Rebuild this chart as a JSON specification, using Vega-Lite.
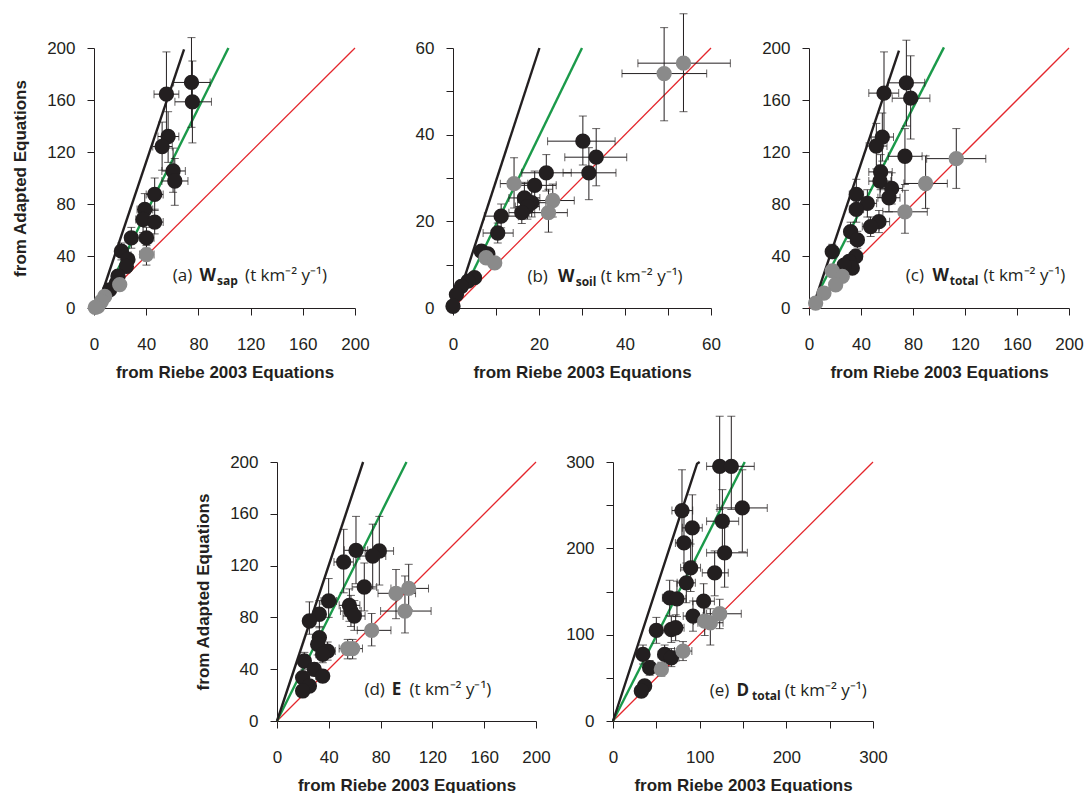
{
"$schema":"https://vega.github.io/schema/vega-lite/v6.json",
"background":"white",
"padding":{"left":11,"top":13,"right":0,"bottom":0},
"config":{"view":{"stroke":null},
"axis":{"grid":false,"domainColor":"#231f20","tickColor":"#231f20","labelColor":"#231f20","titleColor":"#231f20","labelFont":"Liberation Sans","labelFontSize":17,"titleFont":"Liberation Sans","titleFontSize":17,"titleFontWeight":"bold","tickSize":7,"labelOverlap":false,"labelFlush":false},
"axisX":{"labelPadding":21,"titlePadding":12,"labelAngle":0},
"axisY":{"labelPadding":12,"titlePadding":17}},
"datasets":{
"pa":[
{"x":74.7,"y":173.5,"xlo":61,"xhi":89,"ylo":139,"yhi":208,"g":"b"},
{"x":75.4,"y":158.6,"xlo":62,"xhi":90,"ylo":127,"yhi":190,"g":"b"},
{"x":55.5,"y":164.5,"xlo":46,"xhi":65,"ylo":131,"yhi":197,"g":"b"},
{"x":56.8,"y":131.9,"xlo":49,"xhi":65,"ylo":112,"yhi":151,"g":"b"},
{"x":52.2,"y":124.2,"xlo":45,"xhi":60,"ylo":106,"yhi":143,"g":"b"},
{"x":60.6,"y":105.4,"xlo":52,"xhi":70,"ylo":89,"yhi":123,"g":"b"},
{"x":61.9,"y":97.7,"xlo":52,"xhi":72,"ylo":79,"yhi":115,"g":"b"},
{"x":46.5,"y":87.4,"xlo":40,"xhi":53,"ylo":75,"yhi":100,"g":"b"},
{"x":38.9,"y":75.8,"xlo":33,"xhi":45,"ylo":65,"yhi":88,"g":"b"},
{"x":37.6,"y":68.1,"xlo":32,"xhi":43,"ylo":58,"yhi":78,"g":"b"},
{"x":46.5,"y":66.1,"xlo":40,"xhi":53,"ylo":57,"yhi":76,"g":"b"},
{"x":28.6,"y":54,"xlo":24,"xhi":33,"ylo":46,"yhi":62,"g":"b"},
{"x":40.2,"y":54,"xlo":35,"xhi":46,"ylo":46,"yhi":62,"g":"b"},
{"x":21,"y":43.7,"xlo":17,"xhi":25,"ylo":37,"yhi":50,"g":"b"},
{"x":26,"y":37.3,"xlo":22,"xhi":30,"ylo":32,"yhi":43,"g":"b"},
{"x":24.8,"y":32,"xlo":21,"xhi":29,"ylo":27,"yhi":37,"g":"b"},
{"x":18.4,"y":24.4,"xlo":15,"xhi":22,"ylo":20,"yhi":29,"g":"b"},
{"x":17,"y":19,"xlo":14,"xhi":20,"ylo":16,"yhi":22,"g":"b"},
{"x":12,"y":14,"xlo":10,"xhi":14,"ylo":12,"yhi":16,"g":"b"},
{"x":40.2,"y":41.1,"xlo":35,"xhi":46,"ylo":33,"yhi":48,"g":"g"},
{"x":19.7,"y":18,"xlo":17,"xhi":22,"ylo":15,"yhi":21,"g":"g"},
{"x":8.2,"y":9,"xlo":7,"xhi":9.5,"ylo":8,"yhi":10,"g":"g"},
{"x":5.6,"y":5,"xlo":5,"xhi":6.2,"ylo":4.5,"yhi":5.5,"g":"g"},
{"x":3,"y":1.3,"xlo":2.7,"xhi":3.3,"ylo":1,"yhi":1.6,"g":"g"},
{"x":1,"y":0.5,"xlo":0.8,"xhi":1.2,"ylo":0.3,"yhi":0.7,"g":"g"}
],
"pb":[
{"x":30.2,"y":38.5,"xlo":22,"xhi":37.7,"ylo":33,"yhi":44.3,"g":"b"},
{"x":33.3,"y":34.8,"xlo":26,"xhi":40.4,"ylo":28.2,"yhi":41.4,"g":"b"},
{"x":31.6,"y":31.2,"xlo":25.6,"xhi":37.9,"ylo":25,"yhi":37,"g":"b"},
{"x":21.7,"y":31.2,"xlo":16,"xhi":27.5,"ylo":27,"yhi":35.4,"g":"b"},
{"x":19,"y":28.3,"xlo":14,"xhi":24,"ylo":25,"yhi":31.6,"g":"b"},
{"x":16.6,"y":25.4,"xlo":13,"xhi":20.2,"ylo":22,"yhi":29,"g":"b"},
{"x":18.3,"y":24.3,"xlo":15,"xhi":21.6,"ylo":21,"yhi":27.6,"g":"b"},
{"x":17.3,"y":23.4,"xlo":14.5,"xhi":20.1,"ylo":20.5,"yhi":26.3,"g":"b"},
{"x":16,"y":22,"xlo":13,"xhi":19,"ylo":19.5,"yhi":24.5,"g":"b"},
{"x":11.2,"y":21.2,"xlo":7.3,"xhi":15.2,"ylo":18.5,"yhi":24,"g":"b"},
{"x":10.4,"y":17.3,"xlo":7,"xhi":14,"ylo":15,"yhi":19.6,"g":"b"},
{"x":6.6,"y":13.1,"xlo":5.5,"xhi":7.8,"ylo":12,"yhi":14.2,"g":"b"},
{"x":8.1,"y":12.5,"xlo":7,"xhi":9.2,"ylo":11.4,"yhi":13.6,"g":"b"},
{"x":5,"y":7,"xlo":4.5,"xhi":5.5,"ylo":6.5,"yhi":7.5,"g":"b"},
{"x":3.5,"y":6.2,"xlo":3,"xhi":4,"ylo":5.7,"yhi":6.7,"g":"b"},
{"x":1.95,"y":5,"xlo":1.5,"xhi":2.4,"ylo":4.6,"yhi":5.4,"g":"b"},
{"x":0.8,"y":3.1,"xlo":0.5,"xhi":1.1,"ylo":2.8,"yhi":3.4,"g":"b"},
{"x":0,"y":0.4,"xlo":-0.2,"xhi":0.2,"ylo":0.2,"yhi":0.6,"g":"b"},
{"x":14.2,"y":28.7,"xlo":11,"xhi":17.4,"ylo":23.1,"yhi":34.7,"g":"g"},
{"x":23.2,"y":24.8,"xlo":18.2,"xhi":28.2,"ylo":21,"yhi":28.6,"g":"g"},
{"x":22.2,"y":22,"xlo":17.7,"xhi":26.6,"ylo":17.5,"yhi":27.4,"g":"g"},
{"x":7.7,"y":11.6,"xlo":6.5,"xhi":8.9,"ylo":10.5,"yhi":12.7,"g":"g"},
{"x":9.7,"y":10.4,"xlo":8.5,"xhi":10.9,"ylo":9.5,"yhi":11.3,"g":"g"},
{"x":49.1,"y":54.1,"xlo":39.3,"xhi":59,"ylo":43.2,"yhi":64.7,"g":"g"},
{"x":53.6,"y":56.5,"xlo":43,"xhi":64.5,"ylo":45.3,"yhi":67.9,"g":"g"}
],
"pc":[
{"x":74.9,"y":173.2,"xlo":61,"xhi":89,"ylo":140,"yhi":206,"g":"b"},
{"x":78.2,"y":161.4,"xlo":64,"xhi":93,"ylo":130,"yhi":194,"g":"b"},
{"x":57.7,"y":165.3,"xlo":46,"xhi":69,"ylo":133,"yhi":197,"g":"b"},
{"x":56.4,"y":131.5,"xlo":48,"xhi":65,"ylo":113,"yhi":150,"g":"b"},
{"x":51.8,"y":124.6,"xlo":44,"xhi":60,"ylo":107,"yhi":142,"g":"b"},
{"x":73.8,"y":116.7,"xlo":61,"xhi":87,"ylo":95,"yhi":138,"g":"b"},
{"x":55.1,"y":104.7,"xlo":46,"xhi":64,"ylo":91,"yhi":118,"g":"b"},
{"x":54.6,"y":97.6,"xlo":46,"xhi":63,"ylo":85,"yhi":110,"g":"b"},
{"x":63.6,"y":92,"xlo":55,"xhi":72,"ylo":80,"yhi":104,"g":"b"},
{"x":61.5,"y":84.8,"xlo":53,"xhi":70,"ylo":74,"yhi":96,"g":"b"},
{"x":36.4,"y":87.4,"xlo":31,"xhi":42,"ylo":76,"yhi":99,"g":"b"},
{"x":44.9,"y":80.5,"xlo":38,"xhi":52,"ylo":70,"yhi":91,"g":"b"},
{"x":36.4,"y":75.9,"xlo":31,"xhi":42,"ylo":66,"yhi":86,"g":"b"},
{"x":53.8,"y":66.4,"xlo":46,"xhi":62,"ylo":58,"yhi":75,"g":"b"},
{"x":47.4,"y":62.6,"xlo":41,"xhi":54,"ylo":55,"yhi":70,"g":"b"},
{"x":32,"y":58.7,"xlo":28,"xhi":36,"ylo":51,"yhi":66,"g":"b"},
{"x":37.2,"y":52.4,"xlo":32,"xhi":42,"ylo":46,"yhi":59,"g":"b"},
{"x":17.9,"y":43.4,"xlo":15,"xhi":21,"ylo":38,"yhi":49,"g":"b"},
{"x":35.9,"y":39.6,"xlo":31,"xhi":41,"ylo":35,"yhi":45,"g":"b"},
{"x":30.8,"y":35.8,"xlo":27,"xhi":35,"ylo":31,"yhi":40,"g":"b"},
{"x":33.3,"y":30.7,"xlo":29,"xhi":37,"ylo":27,"yhi":35,"g":"b"},
{"x":27,"y":33,"xlo":23,"xhi":31,"ylo":29,"yhi":37,"g":"b"},
{"x":113.3,"y":114.9,"xlo":90.5,"xhi":136,"ylo":92,"yhi":138,"g":"g"},
{"x":89.7,"y":95.8,"xlo":73,"xhi":106.4,"ylo":76.6,"yhi":117,"g":"g"},
{"x":73.8,"y":74,"xlo":56.8,"xhi":91,"ylo":57.5,"yhi":90.5,"g":"g"},
{"x":17.9,"y":28.6,"xlo":15.5,"xhi":20.5,"ylo":25,"yhi":32,"g":"g"},
{"x":25.6,"y":24.3,"xlo":23,"xhi":28,"ylo":21.5,"yhi":27,"g":"g"},
{"x":20.5,"y":17.9,"xlo":18.5,"xhi":22.5,"ylo":16,"yhi":20,"g":"g"},
{"x":11.5,"y":11.5,"xlo":10.5,"xhi":12.5,"ylo":10.5,"yhi":12.5,"g":"g"},
{"x":5.1,"y":3.8,"xlo":4.6,"xhi":5.6,"ylo":3.4,"yhi":4.2,"g":"g"}
],
"pd":[
{"x":61,"y":131.8,"xlo":52,"xhi":70,"ylo":106,"yhi":158,"g":"b"},
{"x":79,"y":131.3,"xlo":68,"xhi":90,"ylo":105,"yhi":158,"g":"b"},
{"x":73.9,"y":127.4,"xlo":64,"xhi":84,"ylo":102,"yhi":152,"g":"b"},
{"x":51.5,"y":122.8,"xlo":44,"xhi":59,"ylo":99,"yhi":148,"g":"b"},
{"x":67.4,"y":103.5,"xlo":58,"xhi":77,"ylo":85,"yhi":122,"g":"b"},
{"x":39.9,"y":92.7,"xlo":34,"xhi":46,"ylo":80,"yhi":110,"g":"b"},
{"x":55.9,"y":89.3,"xlo":48,"xhi":64,"ylo":77,"yhi":102,"g":"b"},
{"x":57.1,"y":84.9,"xlo":49,"xhi":65,"ylo":73,"yhi":97,"g":"b"},
{"x":59.7,"y":81.1,"xlo":51,"xhi":68,"ylo":70,"yhi":93,"g":"b"},
{"x":32.7,"y":82.4,"xlo":28,"xhi":37,"ylo":72,"yhi":93,"g":"b"},
{"x":25,"y":77.2,"xlo":21,"xhi":29,"ylo":67,"yhi":92,"g":"b"},
{"x":32.7,"y":64.4,"xlo":28,"xhi":37,"ylo":56,"yhi":73,"g":"b"},
{"x":31.4,"y":59.2,"xlo":27,"xhi":36,"ylo":51,"yhi":67,"g":"b"},
{"x":39.1,"y":54,"xlo":33,"xhi":45,"ylo":47,"yhi":61,"g":"b"},
{"x":35.3,"y":51.5,"xlo":30,"xhi":40,"ylo":45,"yhi":58,"g":"b"},
{"x":21.1,"y":46.3,"xlo":18,"xhi":24,"ylo":40,"yhi":53,"g":"b"},
{"x":28.8,"y":39.9,"xlo":25,"xhi":33,"ylo":35,"yhi":45,"g":"b"},
{"x":35.3,"y":34.7,"xlo":30,"xhi":40,"ylo":30,"yhi":39,"g":"b"},
{"x":19.8,"y":33.5,"xlo":17,"xhi":23,"ylo":29,"yhi":38,"g":"b"},
{"x":25,"y":27,"xlo":21.5,"xhi":28.5,"ylo":23.5,"yhi":30.5,"g":"b"},
{"x":19.8,"y":23.2,"xlo":17,"xhi":23,"ylo":20,"yhi":26.5,"g":"b"},
{"x":101.7,"y":102.4,"xlo":88,"xhi":117,"ylo":86,"yhi":121,"g":"g"},
{"x":91.9,"y":98.6,"xlo":78,"xhi":107,"ylo":79,"yhi":117,"g":"g"},
{"x":98.8,"y":84.9,"xlo":80,"xhi":119,"ylo":68,"yhi":112,"g":"g"},
{"x":73.1,"y":70,"xlo":62,"xhi":88,"ylo":58,"yhi":83,"g":"g"},
{"x":54.6,"y":55.9,"xlo":48,"xhi":62,"ylo":48,"yhi":63,"g":"g"},
{"x":58.4,"y":55.9,"xlo":52,"xhi":66,"ylo":48,"yhi":63,"g":"g"}
],
"pe":[
{"x":123.1,"y":295,"xlo":108,"xhi":138,"ylo":245,"yhi":353,"g":"b"},
{"x":136.5,"y":295,"xlo":120,"xhi":163,"ylo":245,"yhi":353,"g":"b"},
{"x":149.2,"y":246.8,"xlo":120,"xhi":178,"ylo":196,"yhi":291,"g":"b"},
{"x":79.6,"y":243.7,"xlo":68,"xhi":92,"ylo":205,"yhi":291,"g":"b"},
{"x":91.5,"y":223.7,"xlo":80,"xhi":103,"ylo":185,"yhi":262,"g":"b"},
{"x":126.2,"y":231.4,"xlo":108,"xhi":145,"ylo":195,"yhi":268,"g":"b"},
{"x":81.9,"y":206.3,"xlo":72,"xhi":92,"ylo":175,"yhi":238,"g":"b"},
{"x":128.8,"y":194.8,"xlo":108,"xhi":155,"ylo":155,"yhi":225,"g":"b"},
{"x":89.6,"y":177.4,"xlo":78,"xhi":101,"ylo":150,"yhi":205,"g":"b"},
{"x":117.3,"y":171.6,"xlo":103,"xhi":133,"ylo":145,"yhi":197,"g":"b"},
{"x":84.6,"y":160,"xlo":74,"xhi":95,"ylo":137,"yhi":183,"g":"b"},
{"x":65.4,"y":142.7,"xlo":57,"xhi":74,"ylo":122,"yhi":163,"g":"b"},
{"x":73.8,"y":141.5,"xlo":64,"xhi":84,"ylo":121,"yhi":162,"g":"b"},
{"x":104.6,"y":138.8,"xlo":92,"xhi":117,"ylo":119,"yhi":159,"g":"b"},
{"x":92.3,"y":121.5,"xlo":81,"xhi":104,"ylo":104,"yhi":139,"g":"b"},
{"x":50,"y":104.9,"xlo":44,"xhi":56,"ylo":90,"yhi":120,"g":"b"},
{"x":67.3,"y":106,"xlo":59,"xhi":76,"ylo":91,"yhi":121,"g":"b"},
{"x":72.3,"y":108,"xlo":63,"xhi":82,"ylo":93,"yhi":123,"g":"b"},
{"x":34.6,"y":77.1,"xlo":30,"xhi":39,"ylo":66,"yhi":88,"g":"b"},
{"x":59.6,"y":77.1,"xlo":52,"xhi":67,"ylo":66,"yhi":88,"g":"b"},
{"x":42.3,"y":61.7,"xlo":37,"xhi":48,"ylo":53,"yhi":70,"g":"b"},
{"x":67.3,"y":73.3,"xlo":59,"xhi":76,"ylo":63,"yhi":84,"g":"b"},
{"x":36.5,"y":40.5,"xlo":32,"xhi":41,"ylo":35,"yhi":46,"g":"b"},
{"x":32.7,"y":34.7,"xlo":29,"xhi":37,"ylo":30,"yhi":40,"g":"b"},
{"x":123.1,"y":124.2,"xlo":108,"xhi":148,"ylo":107,"yhi":141,"g":"g"},
{"x":112.3,"y":113.8,"xlo":98,"xhi":127,"ylo":88,"yhi":130,"g":"g"},
{"x":105.8,"y":115.7,"xlo":93,"xhi":119,"ylo":99,"yhi":132,"g":"g"},
{"x":80.8,"y":81,"xlo":71,"xhi":91,"ylo":70,"yhi":92,"g":"g"},
{"x":55.8,"y":59.8,"xlo":49,"xhi":63,"ylo":52,"yhi":68,"g":"g"}
]
},
"vconcat":[
{"hconcat":[
{"width":261,"height":260,"data":{"name":"pa"},"layer":[
{"data":{"values":[{"x":0,"y":0},{"x":200,"y":200}]},"mark":{"type":"line","color":"#e4262c","strokeWidth":1.3},"encoding":{"x":{"field":"x","type":"quantitative","scale":{"domain":[0,200],"nice":false,"zero":false},"title":"from Riebe 2003 Equations"},"y":{"field":"y","type":"quantitative","scale":{"domain":[0,200],"nice":false,"zero":false},"title":"from Adapted Equations"}}},
{"data":{"values":[{"x":4,"y":1},{"x":103,"y":200}]},"mark":{"type":"line","color":"#1b9a4a","strokeWidth":2.4},"encoding":{"x":{"field":"x","type":"quantitative","scale":{"domain":[0,200],"nice":false,"zero":false},"title":"from Riebe 2003 Equations"},"y":{"field":"y","type":"quantitative","scale":{"domain":[0,200],"nice":false,"zero":false},"title":"from Adapted Equations"}}},
{"data":{"values":[{"x":4,"y":5},{"x":69,"y":199}]},"mark":{"type":"line","color":"#231f20","strokeWidth":2.4},"encoding":{"x":{"field":"x","type":"quantitative","scale":{"domain":[0,200],"nice":false,"zero":false},"title":"from Riebe 2003 Equations"},"y":{"field":"y","type":"quantitative","scale":{"domain":[0,200],"nice":false,"zero":false},"title":"from Adapted Equations"}}},
{"mark":{"type":"rule","color":"#231f20","strokeWidth":1},"encoding":{"x":{"field":"xlo","type":"quantitative","scale":{"domain":[0,200],"nice":false,"zero":false},"title":"from Riebe 2003 Equations"},"x2":{"field":"xhi"},"y":{"field":"y","type":"quantitative","scale":{"domain":[0,200],"nice":false,"zero":false},"title":"from Adapted Equations"}}},
{"mark":{"type":"rule","color":"#231f20","strokeWidth":1},"encoding":{"x":{"field":"x","type":"quantitative","scale":{"domain":[0,200],"nice":false,"zero":false},"title":"from Riebe 2003 Equations"},"y":{"field":"ylo","type":"quantitative","scale":{"domain":[0,200],"nice":false,"zero":false},"title":"from Adapted Equations"},"y2":{"field":"yhi"}}},
{"mark":{"type":"tick","orient":"vertical","size":8,"thickness":1,"color":"#231f20"},"encoding":{"x":{"field":"xlo","type":"quantitative","scale":{"domain":[0,200],"nice":false,"zero":false},"title":"from Riebe 2003 Equations"},"y":{"field":"y","type":"quantitative","scale":{"domain":[0,200],"nice":false,"zero":false},"title":"from Adapted Equations"}}},
{"mark":{"type":"tick","orient":"vertical","size":8,"thickness":1,"color":"#231f20"},"encoding":{"x":{"field":"xhi","type":"quantitative","scale":{"domain":[0,200],"nice":false,"zero":false},"title":"from Riebe 2003 Equations"},"y":{"field":"y","type":"quantitative","scale":{"domain":[0,200],"nice":false,"zero":false},"title":"from Adapted Equations"}}},
{"mark":{"type":"tick","orient":"horizontal","size":8,"thickness":1,"color":"#231f20"},"encoding":{"x":{"field":"x","type":"quantitative","scale":{"domain":[0,200],"nice":false,"zero":false},"title":"from Riebe 2003 Equations"},"y":{"field":"ylo","type":"quantitative","scale":{"domain":[0,200],"nice":false,"zero":false},"title":"from Adapted Equations"}}},
{"mark":{"type":"tick","orient":"horizontal","size":8,"thickness":1,"color":"#231f20"},"encoding":{"x":{"field":"x","type":"quantitative","scale":{"domain":[0,200],"nice":false,"zero":false},"title":"from Riebe 2003 Equations"},"y":{"field":"yhi","type":"quantitative","scale":{"domain":[0,200],"nice":false,"zero":false},"title":"from Adapted Equations"}}},
{"mark":{"type":"circle","size":235,"opacity":1},"encoding":{"x":{"field":"x","type":"quantitative","scale":{"domain":[0,200],"nice":false,"zero":false},"title":"from Riebe 2003 Equations","axis":{"values":[0,20,40,60,80,100,120,140,160,180,200],"labelExpr":"datum.value % 40 === 0 ? datum.label : ''"}},"y":{"field":"y","type":"quantitative","scale":{"domain":[0,200],"nice":false,"zero":false},"title":"from Adapted Equations","axis":{"values":[0,20,40,60,80,100,120,140,160,180,200],"labelExpr":"datum.value % 40 === 0 ? datum.label : ''"}},"color":{"field":"g","type":"nominal","scale":{"domain":["b","g"],"range":["#231f20","#8a8a8a"]},"legend":null}}},
{"data":{"values":[{}]},"mark":{"type":"text","text":"(a)","align":"left","baseline":"alphabetic","font":"Open Sans","fontSize":17,"color":"#231f20"},"encoding":{"x":{"datum":60.4,"type":"quantitative","scale":{"domain":[0,200],"nice":false,"zero":false}},"y":{"datum":21.1,"type":"quantitative","scale":{"domain":[0,200],"nice":false,"zero":false}}}},
{"data":{"values":[{}]},"mark":{"type":"text","text":"W","dx":26.7,"align":"left","baseline":"alphabetic","font":"Open Sans","fontSize":17,"fontWeight":"bold","color":"#231f20"},"encoding":{"x":{"datum":60.4,"type":"quantitative","scale":{"domain":[0,200],"nice":false,"zero":false}},"y":{"datum":21.1,"type":"quantitative","scale":{"domain":[0,200],"nice":false,"zero":false}}}},
{"data":{"values":[{}]},"mark":{"type":"text","text":"sap","dx":44.3,"dy":4,"align":"left","baseline":"alphabetic","font":"Open Sans","fontSize":12,"fontWeight":"bold","color":"#231f20"},"encoding":{"x":{"datum":60.4,"type":"quantitative","scale":{"domain":[0,200],"nice":false,"zero":false}},"y":{"datum":21.1,"type":"quantitative","scale":{"domain":[0,200],"nice":false,"zero":false}}}},
{"data":{"values":[{}]},"mark":{"type":"text","text":"(t km⁻² y⁻¹)","dx":72.3,"align":"left","baseline":"alphabetic","font":"Open Sans","fontSize":17,"color":"#231f20"},"encoding":{"x":{"datum":60.4,"type":"quantitative","scale":{"domain":[0,200],"nice":false,"zero":false}},"y":{"datum":21.1,"type":"quantitative","scale":{"domain":[0,200],"nice":false,"zero":false}}}}
]},
{"width":258,"height":260,"data":{"name":"pb"},"layer":[
{"data":{"values":[{"x":0,"y":0},{"x":60,"y":60}]},"mark":{"type":"line","color":"#e4262c","strokeWidth":1.3},"encoding":{"x":{"field":"x","type":"quantitative","scale":{"domain":[0,60],"nice":false,"zero":false},"title":"from Riebe 2003 Equations"},"y":{"field":"y","type":"quantitative","scale":{"domain":[0,60],"nice":false,"zero":false},"title":null}}},
{"data":{"values":[{"x":3,"y":5},{"x":30,"y":60}]},"mark":{"type":"line","color":"#1b9a4a","strokeWidth":2.4},"encoding":{"x":{"field":"x","type":"quantitative","scale":{"domain":[0,60],"nice":false,"zero":false},"title":"from Riebe 2003 Equations"},"y":{"field":"y","type":"quantitative","scale":{"domain":[0,60],"nice":false,"zero":false},"title":null}}},
{"data":{"values":[{"x":2,"y":5},{"x":20.1,"y":60}]},"mark":{"type":"line","color":"#231f20","strokeWidth":2.4},"encoding":{"x":{"field":"x","type":"quantitative","scale":{"domain":[0,60],"nice":false,"zero":false},"title":"from Riebe 2003 Equations"},"y":{"field":"y","type":"quantitative","scale":{"domain":[0,60],"nice":false,"zero":false},"title":null}}},
{"mark":{"type":"rule","color":"#231f20","strokeWidth":1},"encoding":{"x":{"field":"xlo","type":"quantitative","scale":{"domain":[0,60],"nice":false,"zero":false},"title":"from Riebe 2003 Equations"},"x2":{"field":"xhi"},"y":{"field":"y","type":"quantitative","scale":{"domain":[0,60],"nice":false,"zero":false},"title":null}}},
{"mark":{"type":"rule","color":"#231f20","strokeWidth":1},"encoding":{"x":{"field":"x","type":"quantitative","scale":{"domain":[0,60],"nice":false,"zero":false},"title":"from Riebe 2003 Equations"},"y":{"field":"ylo","type":"quantitative","scale":{"domain":[0,60],"nice":false,"zero":false},"title":null},"y2":{"field":"yhi"}}},
{"mark":{"type":"tick","orient":"vertical","size":8,"thickness":1,"color":"#231f20"},"encoding":{"x":{"field":"xlo","type":"quantitative","scale":{"domain":[0,60],"nice":false,"zero":false},"title":"from Riebe 2003 Equations"},"y":{"field":"y","type":"quantitative","scale":{"domain":[0,60],"nice":false,"zero":false},"title":null}}},
{"mark":{"type":"tick","orient":"vertical","size":8,"thickness":1,"color":"#231f20"},"encoding":{"x":{"field":"xhi","type":"quantitative","scale":{"domain":[0,60],"nice":false,"zero":false},"title":"from Riebe 2003 Equations"},"y":{"field":"y","type":"quantitative","scale":{"domain":[0,60],"nice":false,"zero":false},"title":null}}},
{"mark":{"type":"tick","orient":"horizontal","size":8,"thickness":1,"color":"#231f20"},"encoding":{"x":{"field":"x","type":"quantitative","scale":{"domain":[0,60],"nice":false,"zero":false},"title":"from Riebe 2003 Equations"},"y":{"field":"ylo","type":"quantitative","scale":{"domain":[0,60],"nice":false,"zero":false},"title":null}}},
{"mark":{"type":"tick","orient":"horizontal","size":8,"thickness":1,"color":"#231f20"},"encoding":{"x":{"field":"x","type":"quantitative","scale":{"domain":[0,60],"nice":false,"zero":false},"title":"from Riebe 2003 Equations"},"y":{"field":"yhi","type":"quantitative","scale":{"domain":[0,60],"nice":false,"zero":false},"title":null}}},
{"mark":{"type":"circle","size":235,"opacity":1},"encoding":{"x":{"field":"x","type":"quantitative","scale":{"domain":[0,60],"nice":false,"zero":false},"title":"from Riebe 2003 Equations","axis":{"values":[0,10,20,30,40,50,60],"labelExpr":"datum.value % 20 === 0 ? datum.label : ''"}},"y":{"field":"y","type":"quantitative","scale":{"domain":[0,60],"nice":false,"zero":false},"title":null,"axis":{"values":[0,10,20,30,40,50,60],"labelExpr":"datum.value % 20 === 0 ? datum.label : ''"}},"color":{"field":"g","type":"nominal","scale":{"domain":["b","g"],"range":["#231f20","#8a8a8a"]},"legend":null}}},
{"data":{"values":[{}]},"mark":{"type":"text","text":"(b)","align":"left","baseline":"alphabetic","font":"Open Sans","fontSize":17,"color":"#231f20"},"encoding":{"x":{"datum":17.3,"type":"quantitative","scale":{"domain":[0,60],"nice":false,"zero":false}},"y":{"datum":5.95,"type":"quantitative","scale":{"domain":[0,60],"nice":false,"zero":false}}}},
{"data":{"values":[{}]},"mark":{"type":"text","text":"W","dx":30.7,"align":"left","baseline":"alphabetic","font":"Open Sans","fontSize":17,"fontWeight":"bold","color":"#231f20"},"encoding":{"x":{"datum":17.3,"type":"quantitative","scale":{"domain":[0,60],"nice":false,"zero":false}},"y":{"datum":5.95,"type":"quantitative","scale":{"domain":[0,60],"nice":false,"zero":false}}}},
{"data":{"values":[{}]},"mark":{"type":"text","text":"soil","dx":48.3,"dy":4,"align":"left","baseline":"alphabetic","font":"Open Sans","fontSize":12,"fontWeight":"bold","color":"#231f20"},"encoding":{"x":{"datum":17.3,"type":"quantitative","scale":{"domain":[0,60],"nice":false,"zero":false}},"y":{"datum":5.95,"type":"quantitative","scale":{"domain":[0,60],"nice":false,"zero":false}}}},
{"data":{"values":[{}]},"mark":{"type":"text","text":"(t km⁻² y⁻¹)","dx":73.3,"align":"left","baseline":"alphabetic","font":"Open Sans","fontSize":17,"color":"#231f20"},"encoding":{"x":{"datum":17.3,"type":"quantitative","scale":{"domain":[0,60],"nice":false,"zero":false}},"y":{"datum":5.95,"type":"quantitative","scale":{"domain":[0,60],"nice":false,"zero":false}}}}
]},
{"width":260,"height":260,"data":{"name":"pc"},"layer":[
{"data":{"values":[{"x":0,"y":0},{"x":200,"y":200}]},"mark":{"type":"line","color":"#e4262c","strokeWidth":1.3},"encoding":{"x":{"field":"x","type":"quantitative","scale":{"domain":[0,200],"nice":false,"zero":false},"title":"from Riebe 2003 Equations"},"y":{"field":"y","type":"quantitative","scale":{"domain":[0,200],"nice":false,"zero":false},"title":null}}},
{"data":{"values":[{"x":7,"y":11.5},{"x":103.8,"y":200.5}]},"mark":{"type":"line","color":"#1b9a4a","strokeWidth":2.4},"encoding":{"x":{"field":"x","type":"quantitative","scale":{"domain":[0,200],"nice":false,"zero":false},"title":"from Riebe 2003 Equations"},"y":{"field":"y","type":"quantitative","scale":{"domain":[0,200],"nice":false,"zero":false},"title":null}}},
{"data":{"values":[{"x":5,"y":7},{"x":69.2,"y":198}]},"mark":{"type":"line","color":"#231f20","strokeWidth":2.4},"encoding":{"x":{"field":"x","type":"quantitative","scale":{"domain":[0,200],"nice":false,"zero":false},"title":"from Riebe 2003 Equations"},"y":{"field":"y","type":"quantitative","scale":{"domain":[0,200],"nice":false,"zero":false},"title":null}}},
{"mark":{"type":"rule","color":"#231f20","strokeWidth":1},"encoding":{"x":{"field":"xlo","type":"quantitative","scale":{"domain":[0,200],"nice":false,"zero":false},"title":"from Riebe 2003 Equations"},"x2":{"field":"xhi"},"y":{"field":"y","type":"quantitative","scale":{"domain":[0,200],"nice":false,"zero":false},"title":null}}},
{"mark":{"type":"rule","color":"#231f20","strokeWidth":1},"encoding":{"x":{"field":"x","type":"quantitative","scale":{"domain":[0,200],"nice":false,"zero":false},"title":"from Riebe 2003 Equations"},"y":{"field":"ylo","type":"quantitative","scale":{"domain":[0,200],"nice":false,"zero":false},"title":null},"y2":{"field":"yhi"}}},
{"mark":{"type":"tick","orient":"vertical","size":8,"thickness":1,"color":"#231f20"},"encoding":{"x":{"field":"xlo","type":"quantitative","scale":{"domain":[0,200],"nice":false,"zero":false},"title":"from Riebe 2003 Equations"},"y":{"field":"y","type":"quantitative","scale":{"domain":[0,200],"nice":false,"zero":false},"title":null}}},
{"mark":{"type":"tick","orient":"vertical","size":8,"thickness":1,"color":"#231f20"},"encoding":{"x":{"field":"xhi","type":"quantitative","scale":{"domain":[0,200],"nice":false,"zero":false},"title":"from Riebe 2003 Equations"},"y":{"field":"y","type":"quantitative","scale":{"domain":[0,200],"nice":false,"zero":false},"title":null}}},
{"mark":{"type":"tick","orient":"horizontal","size":8,"thickness":1,"color":"#231f20"},"encoding":{"x":{"field":"x","type":"quantitative","scale":{"domain":[0,200],"nice":false,"zero":false},"title":"from Riebe 2003 Equations"},"y":{"field":"ylo","type":"quantitative","scale":{"domain":[0,200],"nice":false,"zero":false},"title":null}}},
{"mark":{"type":"tick","orient":"horizontal","size":8,"thickness":1,"color":"#231f20"},"encoding":{"x":{"field":"x","type":"quantitative","scale":{"domain":[0,200],"nice":false,"zero":false},"title":"from Riebe 2003 Equations"},"y":{"field":"yhi","type":"quantitative","scale":{"domain":[0,200],"nice":false,"zero":false},"title":null}}},
{"mark":{"type":"circle","size":235,"opacity":1},"encoding":{"x":{"field":"x","type":"quantitative","scale":{"domain":[0,200],"nice":false,"zero":false},"title":"from Riebe 2003 Equations","axis":{"values":[0,20,40,60,80,100,120,140,160,180,200],"labelExpr":"datum.value % 40 === 0 ? datum.label : ''"}},"y":{"field":"y","type":"quantitative","scale":{"domain":[0,200],"nice":false,"zero":false},"title":null,"axis":{"values":[0,20,40,60,80,100,120,140,160,180,200],"labelExpr":"datum.value % 40 === 0 ? datum.label : ''"}},"color":{"field":"g","type":"nominal","scale":{"domain":["b","g"],"range":["#231f20","#8a8a8a"]},"legend":null}}},
{"data":{"values":[{}]},"mark":{"type":"text","text":"(c)","align":"left","baseline":"alphabetic","font":"Open Sans","fontSize":17,"color":"#231f20"},"encoding":{"x":{"datum":74.4,"type":"quantitative","scale":{"domain":[0,200],"nice":false,"zero":false}},"y":{"datum":20.9,"type":"quantitative","scale":{"domain":[0,200],"nice":false,"zero":false}}}},
{"data":{"values":[{}]},"mark":{"type":"text","text":"W","dx":26.7,"align":"left","baseline":"alphabetic","font":"Open Sans","fontSize":17,"fontWeight":"bold","color":"#231f20"},"encoding":{"x":{"datum":74.4,"type":"quantitative","scale":{"domain":[0,200],"nice":false,"zero":false}},"y":{"datum":20.9,"type":"quantitative","scale":{"domain":[0,200],"nice":false,"zero":false}}}},
{"data":{"values":[{}]},"mark":{"type":"text","text":"total","dx":44,"dy":4,"align":"left","baseline":"alphabetic","font":"Open Sans","fontSize":12,"fontWeight":"bold","color":"#231f20"},"encoding":{"x":{"datum":74.4,"type":"quantitative","scale":{"domain":[0,200],"nice":false,"zero":false}},"y":{"datum":20.9,"type":"quantitative","scale":{"domain":[0,200],"nice":false,"zero":false}}}},
{"data":{"values":[{}]},"mark":{"type":"text","text":"(t km⁻² y⁻¹)","dx":77.7,"align":"left","baseline":"alphabetic","font":"Open Sans","fontSize":17,"color":"#231f20"},"encoding":{"x":{"datum":74.4,"type":"quantitative","scale":{"domain":[0,200],"nice":false,"zero":false}},"y":{"datum":20.9,"type":"quantitative","scale":{"domain":[0,200],"nice":false,"zero":false}}}}
]}
],"spacing":98,"bounds":"flush"},
{"hconcat":[
{"width":106,"height":259,"data":{"values":[]},"mark":"point"},
{"width":259,"height":259,"data":{"name":"pd"},"layer":[
{"data":{"values":[{"x":0,"y":0},{"x":200,"y":200}]},"mark":{"type":"line","color":"#e4262c","strokeWidth":1.3},"encoding":{"x":{"field":"x","type":"quantitative","scale":{"domain":[0,200],"nice":false,"zero":false},"title":"from Riebe 2003 Equations"},"y":{"field":"y","type":"quantitative","scale":{"domain":[0,200],"nice":false,"zero":false},"title":"from Adapted Equations"}}},
{"data":{"values":[{"x":0,"y":0},{"x":100,"y":200}]},"mark":{"type":"line","color":"#1b9a4a","strokeWidth":2.4},"encoding":{"x":{"field":"x","type":"quantitative","scale":{"domain":[0,200],"nice":false,"zero":false},"title":"from Riebe 2003 Equations"},"y":{"field":"y","type":"quantitative","scale":{"domain":[0,200],"nice":false,"zero":false},"title":"from Adapted Equations"}}},
{"data":{"values":[{"x":0,"y":0},{"x":66.5,"y":200}]},"mark":{"type":"line","color":"#231f20","strokeWidth":2.4},"encoding":{"x":{"field":"x","type":"quantitative","scale":{"domain":[0,200],"nice":false,"zero":false},"title":"from Riebe 2003 Equations"},"y":{"field":"y","type":"quantitative","scale":{"domain":[0,200],"nice":false,"zero":false},"title":"from Adapted Equations"}}},
{"mark":{"type":"rule","color":"#231f20","strokeWidth":1},"encoding":{"x":{"field":"xlo","type":"quantitative","scale":{"domain":[0,200],"nice":false,"zero":false},"title":"from Riebe 2003 Equations"},"x2":{"field":"xhi"},"y":{"field":"y","type":"quantitative","scale":{"domain":[0,200],"nice":false,"zero":false},"title":"from Adapted Equations"}}},
{"mark":{"type":"rule","color":"#231f20","strokeWidth":1},"encoding":{"x":{"field":"x","type":"quantitative","scale":{"domain":[0,200],"nice":false,"zero":false},"title":"from Riebe 2003 Equations"},"y":{"field":"ylo","type":"quantitative","scale":{"domain":[0,200],"nice":false,"zero":false},"title":"from Adapted Equations"},"y2":{"field":"yhi"}}},
{"mark":{"type":"tick","orient":"vertical","size":8,"thickness":1,"color":"#231f20"},"encoding":{"x":{"field":"xlo","type":"quantitative","scale":{"domain":[0,200],"nice":false,"zero":false},"title":"from Riebe 2003 Equations"},"y":{"field":"y","type":"quantitative","scale":{"domain":[0,200],"nice":false,"zero":false},"title":"from Adapted Equations"}}},
{"mark":{"type":"tick","orient":"vertical","size":8,"thickness":1,"color":"#231f20"},"encoding":{"x":{"field":"xhi","type":"quantitative","scale":{"domain":[0,200],"nice":false,"zero":false},"title":"from Riebe 2003 Equations"},"y":{"field":"y","type":"quantitative","scale":{"domain":[0,200],"nice":false,"zero":false},"title":"from Adapted Equations"}}},
{"mark":{"type":"tick","orient":"horizontal","size":8,"thickness":1,"color":"#231f20"},"encoding":{"x":{"field":"x","type":"quantitative","scale":{"domain":[0,200],"nice":false,"zero":false},"title":"from Riebe 2003 Equations"},"y":{"field":"ylo","type":"quantitative","scale":{"domain":[0,200],"nice":false,"zero":false},"title":"from Adapted Equations"}}},
{"mark":{"type":"tick","orient":"horizontal","size":8,"thickness":1,"color":"#231f20"},"encoding":{"x":{"field":"x","type":"quantitative","scale":{"domain":[0,200],"nice":false,"zero":false},"title":"from Riebe 2003 Equations"},"y":{"field":"yhi","type":"quantitative","scale":{"domain":[0,200],"nice":false,"zero":false},"title":"from Adapted Equations"}}},
{"mark":{"type":"circle","size":235,"opacity":1},"encoding":{"x":{"field":"x","type":"quantitative","scale":{"domain":[0,200],"nice":false,"zero":false},"title":"from Riebe 2003 Equations","axis":{"values":[0,20,40,60,80,100,120,140,160,180,200],"labelExpr":"datum.value % 40 === 0 ? datum.label : ''"}},"y":{"field":"y","type":"quantitative","scale":{"domain":[0,200],"nice":false,"zero":false},"title":"from Adapted Equations","axis":{"values":[0,20,40,60,80,100,120,140,160,180,200],"labelExpr":"datum.value % 40 === 0 ? datum.label : ''"}},"color":{"field":"g","type":"nominal","scale":{"domain":["b","g"],"range":["#231f20","#8a8a8a"]},"legend":null}}},
{"data":{"values":[{}]},"mark":{"type":"text","text":"(d)","align":"left","baseline":"alphabetic","font":"Open Sans","fontSize":17,"color":"#231f20"},"encoding":{"x":{"datum":67.5,"type":"quantitative","scale":{"domain":[0,200],"nice":false,"zero":false}},"y":{"datum":19.8,"type":"quantitative","scale":{"domain":[0,200],"nice":false,"zero":false}}}},
{"data":{"values":[{}]},"mark":{"type":"text","text":"E","dx":27.3,"align":"left","baseline":"alphabetic","font":"Open Sans","fontSize":17,"fontWeight":"bold","color":"#231f20"},"encoding":{"x":{"datum":67.5,"type":"quantitative","scale":{"domain":[0,200],"nice":false,"zero":false}},"y":{"datum":19.8,"type":"quantitative","scale":{"domain":[0,200],"nice":false,"zero":false}}}},
{"data":{"values":[{}]},"mark":{"type":"text","text":"(t km⁻² y⁻¹)","dx":45,"align":"left","baseline":"alphabetic","font":"Open Sans","fontSize":17,"color":"#231f20"},"encoding":{"x":{"datum":67.5,"type":"quantitative","scale":{"domain":[0,200],"nice":false,"zero":false}},"y":{"datum":19.8,"type":"quantitative","scale":{"domain":[0,200],"nice":false,"zero":false}}}}
]},
{"width":260,"height":259,"data":{"name":"pe"},"layer":[
{"data":{"values":[{"x":0,"y":0},{"x":300,"y":300}]},"mark":{"type":"line","color":"#e4262c","strokeWidth":1.3},"encoding":{"x":{"field":"x","type":"quantitative","scale":{"domain":[0,300],"nice":false,"zero":false},"title":"from Riebe 2003 Equations"},"y":{"field":"y","type":"quantitative","scale":{"domain":[0,300],"nice":false,"zero":false},"title":null}}},
{"data":{"values":[{"x":0,"y":0},{"x":152,"y":300}]},"mark":{"type":"line","color":"#1b9a4a","strokeWidth":2.4},"encoding":{"x":{"field":"x","type":"quantitative","scale":{"domain":[0,300],"nice":false,"zero":false},"title":"from Riebe 2003 Equations"},"y":{"field":"y","type":"quantitative","scale":{"domain":[0,300],"nice":false,"zero":false},"title":null}}},
{"data":{"values":[{"x":0,"y":0},{"x":97,"y":298},{"x":100,"y":300}]},"mark":{"type":"line","color":"#231f20","strokeWidth":2.4},"encoding":{"x":{"field":"x","type":"quantitative","scale":{"domain":[0,300],"nice":false,"zero":false},"title":"from Riebe 2003 Equations"},"y":{"field":"y","type":"quantitative","scale":{"domain":[0,300],"nice":false,"zero":false},"title":null}}},
{"mark":{"type":"rule","color":"#231f20","strokeWidth":1},"encoding":{"x":{"field":"xlo","type":"quantitative","scale":{"domain":[0,300],"nice":false,"zero":false},"title":"from Riebe 2003 Equations"},"x2":{"field":"xhi"},"y":{"field":"y","type":"quantitative","scale":{"domain":[0,300],"nice":false,"zero":false},"title":null}}},
{"mark":{"type":"rule","color":"#231f20","strokeWidth":1},"encoding":{"x":{"field":"x","type":"quantitative","scale":{"domain":[0,300],"nice":false,"zero":false},"title":"from Riebe 2003 Equations"},"y":{"field":"ylo","type":"quantitative","scale":{"domain":[0,300],"nice":false,"zero":false},"title":null},"y2":{"field":"yhi"}}},
{"mark":{"type":"tick","orient":"vertical","size":8,"thickness":1,"color":"#231f20"},"encoding":{"x":{"field":"xlo","type":"quantitative","scale":{"domain":[0,300],"nice":false,"zero":false},"title":"from Riebe 2003 Equations"},"y":{"field":"y","type":"quantitative","scale":{"domain":[0,300],"nice":false,"zero":false},"title":null}}},
{"mark":{"type":"tick","orient":"vertical","size":8,"thickness":1,"color":"#231f20"},"encoding":{"x":{"field":"xhi","type":"quantitative","scale":{"domain":[0,300],"nice":false,"zero":false},"title":"from Riebe 2003 Equations"},"y":{"field":"y","type":"quantitative","scale":{"domain":[0,300],"nice":false,"zero":false},"title":null}}},
{"mark":{"type":"tick","orient":"horizontal","size":8,"thickness":1,"color":"#231f20"},"encoding":{"x":{"field":"x","type":"quantitative","scale":{"domain":[0,300],"nice":false,"zero":false},"title":"from Riebe 2003 Equations"},"y":{"field":"ylo","type":"quantitative","scale":{"domain":[0,300],"nice":false,"zero":false},"title":null}}},
{"mark":{"type":"tick","orient":"horizontal","size":8,"thickness":1,"color":"#231f20"},"encoding":{"x":{"field":"x","type":"quantitative","scale":{"domain":[0,300],"nice":false,"zero":false},"title":"from Riebe 2003 Equations"},"y":{"field":"yhi","type":"quantitative","scale":{"domain":[0,300],"nice":false,"zero":false},"title":null}}},
{"mark":{"type":"circle","size":235,"opacity":1},"encoding":{"x":{"field":"x","type":"quantitative","scale":{"domain":[0,300],"nice":false,"zero":false},"title":"from Riebe 2003 Equations","axis":{"values":[0,50,100,150,200,250,300],"labelExpr":"datum.value % 100 === 0 ? datum.label : ''"}},"y":{"field":"y","type":"quantitative","scale":{"domain":[0,300],"nice":false,"zero":false},"title":null,"axis":{"values":[0,50,100,150,200,250,300],"labelExpr":"datum.value % 100 === 0 ? datum.label : ''"}},"color":{"field":"g","type":"nominal","scale":{"domain":["b","g"],"range":["#231f20","#8a8a8a"]},"legend":null}}},
{"data":{"values":[{}]},"mark":{"type":"text","text":"(e)","align":"left","baseline":"alphabetic","font":"Open Sans","fontSize":17,"color":"#231f20"},"encoding":{"x":{"datum":111.6,"type":"quantitative","scale":{"domain":[0,300],"nice":false,"zero":false}},"y":{"datum":28.6,"type":"quantitative","scale":{"domain":[0,300],"nice":false,"zero":false}}}},
{"data":{"values":[{}]},"mark":{"type":"text","text":"D","dx":26.7,"align":"left","baseline":"alphabetic","font":"Open Sans","fontSize":17,"fontWeight":"bold","color":"#231f20"},"encoding":{"x":{"datum":111.6,"type":"quantitative","scale":{"domain":[0,300],"nice":false,"zero":false}},"y":{"datum":28.6,"type":"quantitative","scale":{"domain":[0,300],"nice":false,"zero":false}}}},
{"data":{"values":[{}]},"mark":{"type":"text","text":"total","dx":42.3,"dy":4,"align":"left","baseline":"alphabetic","font":"Open Sans","fontSize":12,"fontWeight":"bold","color":"#231f20"},"encoding":{"x":{"datum":111.6,"type":"quantitative","scale":{"domain":[0,300],"nice":false,"zero":false}},"y":{"datum":28.6,"type":"quantitative","scale":{"domain":[0,300],"nice":false,"zero":false}}}},
{"data":{"values":[{}]},"mark":{"type":"text","text":"(t km⁻² y⁻¹)","dx":75,"align":"left","baseline":"alphabetic","font":"Open Sans","fontSize":17,"color":"#231f20"},"encoding":{"x":{"datum":111.6,"type":"quantitative","scale":{"domain":[0,300],"nice":false,"zero":false}},"y":{"datum":28.6,"type":"quantitative","scale":{"domain":[0,300],"nice":false,"zero":false}}}}
]}
],"spacing":77,"bounds":"flush"}
],"spacing":35
}
